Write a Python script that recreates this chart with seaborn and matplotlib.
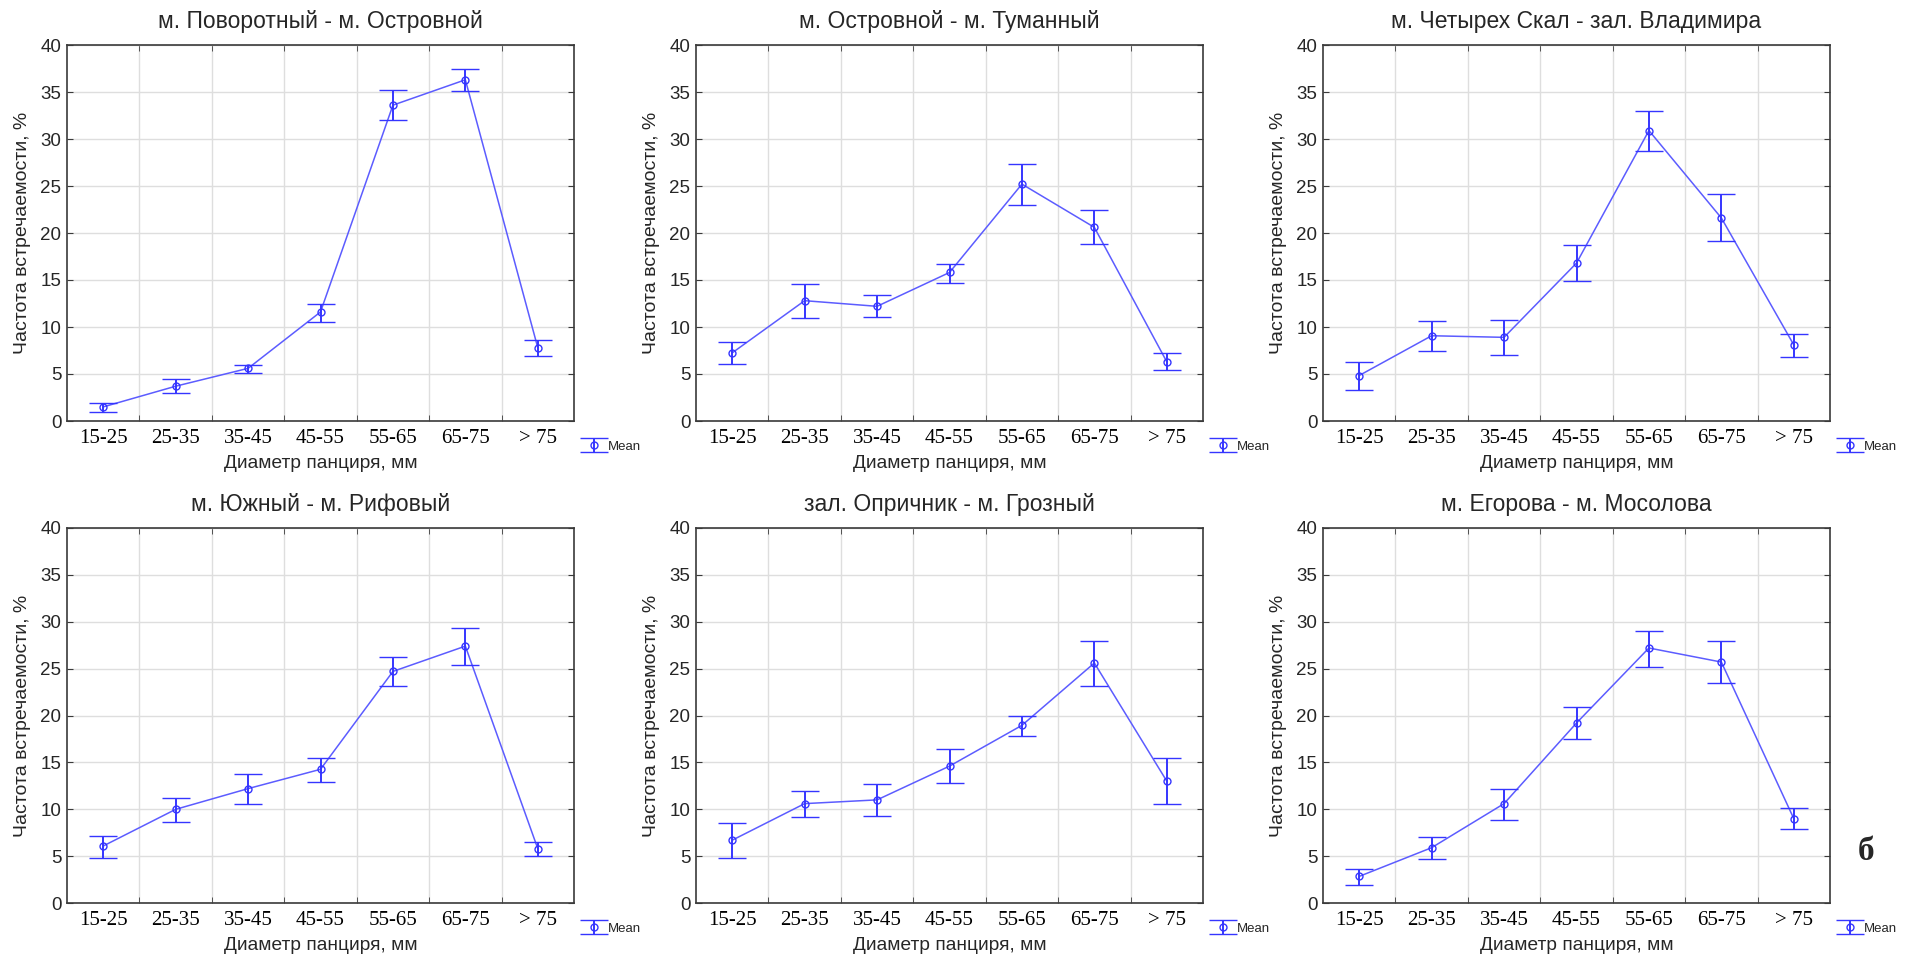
import numpy as np
import pandas as pd
import matplotlib
matplotlib.use('Agg')
import matplotlib.pyplot as plt
import seaborn as sns

categories = ['15-25', '25-35', '35-45', '45-55', '55-65', '65-75', '> 75']

titles = [
    'м. Поворотный - м. Островной',
    'м. Островной - м. Туманный',
    'м. Четырех Скал - зал. Владимира',
    'м. Южный - м. Рифовый',
    'зал. Опричник - м. Грозный',
    'м. Егорова - м. Мосолова',
]

mean_1 = [1.5, 3.7, 5.6, 11.6, 33.6, 36.3, 7.8]
lo_1 = [1.0, 3.0, 5.1, 10.5, 32.0, 35.1, 6.9]
hi_1 = [1.9, 4.5, 6.0, 12.5, 35.2, 37.4, 8.6]

mean_2 = [7.25, 12.8, 12.2, 15.8, 25.2, 20.6, 6.3]
lo_2 = [6.1, 10.95, 11.05, 14.7, 23.0, 18.8, 5.4]
hi_2 = [8.4, 14.6, 13.4, 16.7, 27.3, 22.4, 7.25]

mean_3 = [4.84, 9.07, 8.9, 16.8, 30.9, 21.6, 8.1]
lo_3 = [3.3, 7.4, 7.04, 14.85, 28.7, 19.2, 6.86]
hi_3 = [6.26, 10.6, 10.7, 18.7, 32.96, 24.1, 9.3]

mean_4 = [6.08, 9.99, 12.2, 14.26, 24.7, 27.4, 5.8]
lo_4 = [4.8, 8.64, 10.6, 12.9, 23.1, 25.4, 5.05]
hi_4 = [7.2, 11.2, 13.76, 15.5, 26.2, 29.3, 6.5]

mean_5 = [6.7, 10.6, 11.0, 14.6, 18.95, 25.6, 13.0]
lo_5 = [4.8, 9.14, 9.3, 12.8, 17.8, 23.1, 10.56]
hi_5 = [8.5, 11.9, 12.66, 16.4, 19.95, 27.9, 15.5]

mean_6 = [2.84, 5.9, 10.6, 19.2, 27.2, 25.7, 9.0]
lo_6 = [1.9, 4.7, 8.9, 17.5, 25.2, 23.5, 7.86]
hi_6 = [3.6, 7.0, 12.16, 20.9, 29.05, 27.9, 10.1]

means = [mean_1, mean_2, mean_3, mean_4, mean_5, mean_6]
lows = [lo_1, lo_2, lo_3, lo_4, lo_5, lo_6]
highs = [hi_1, hi_2, hi_3, hi_4, hi_5, hi_6]

sns.set_style('white')
plt.rcParams['font.family'] = ['Liberation Sans', 'DejaVu Sans']

LINE = '#5c5cff'
ERR = '#3535ff'
GRID = '#dedede'
SPINE = '#3a3a3a'

W_PX, H_PX = 1919, 958
fig = plt.figure(figsize=(W_PX / 100, H_PX / 100), dpi=100)

lefts = [67, 696, 1323]
tops = [45, 528]
bottoms = [421, 903]
AW = 507

for i in range(6):
    r, c = divmod(i, 3)
    ax = fig.add_axes([lefts[c] / W_PX, 1 - bottoms[r] / H_PX,
                       AW / W_PX, (bottoms[r] - tops[r]) / H_PX])
    x = np.arange(len(categories))
    m = np.array(means[i])
    lo = np.array(lows[i])
    hi = np.array(highs[i])
    df = pd.DataFrame({'x': x, 'y': m})
    sns.lineplot(data=df, x='x', y='y', ax=ax, color=LINE, lw=1.1,
                 legend=False, zorder=3)
    eb = ax.errorbar(x, m, yerr=[m - lo, hi - m], fmt='o', ms=5,
                     mfc='none', mec=ERR, mew=1.0, ecolor=ERR,
                     elinewidth=1.4, capsize=10, capthick=1.4, zorder=4,
                     label='Mean')
    ax.set_xlim(-0.5, 6.5)
    ax.set_ylim(0, 40)
    ax.set_yticks(range(0, 41, 5))
    ax.set_yticklabels([str(v) for v in range(0, 41, 5)], fontsize=13.5)
    ax.set_xticks(x)
    ax.set_xticklabels(categories, fontfamily='Liberation Serif', fontsize=15)
    ax.set_xticks(x[:-1] + 0.5, minor=True)
    ax.grid(which='minor', axis='x', color=GRID, lw=1)
    ax.grid(which='major', axis='y', color=GRID, lw=1)
    ax.grid(which='major', axis='x', visible=False)
    ax.set_axisbelow(True)
    ax.tick_params(axis='x', which='major', length=0, pad=6, colors='black')
    ax.tick_params(axis='x', which='minor', length=4, direction='in',
                   top=True, bottom=True, color=SPINE)
    ax.tick_params(axis='y', which='major', direction='in', left=True,
                   right=True, length=4, color=SPINE, pad=4)
    for s in ax.spines.values():
        s.set_visible(True)
        s.set_color(SPINE)
        s.set_linewidth(1.2)
    ax.set_xlabel('Диаметр панциря, мм', fontsize=13.8, labelpad=5)
    ax.set_ylabel('Частота встречаемости, %', fontsize=14, labelpad=7)
    ax.set_title(titles[i], fontsize=16.5, pad=12)
    ax.legend(handles=[eb], labels=['Mean'], loc='center left',
              bbox_to_anchor=(1.005, -0.068), frameon=False, fontsize=9.5,
              handlelength=1.6, handletextpad=0.3, borderpad=0)

fig.text(1866 / W_PX, 1 - 851 / H_PX, 'б', fontfamily='Liberation Serif',
         fontweight='bold', fontsize=24, ha='center', va='center')

fig.savefig('out.png', dpi=100, facecolor='white')
